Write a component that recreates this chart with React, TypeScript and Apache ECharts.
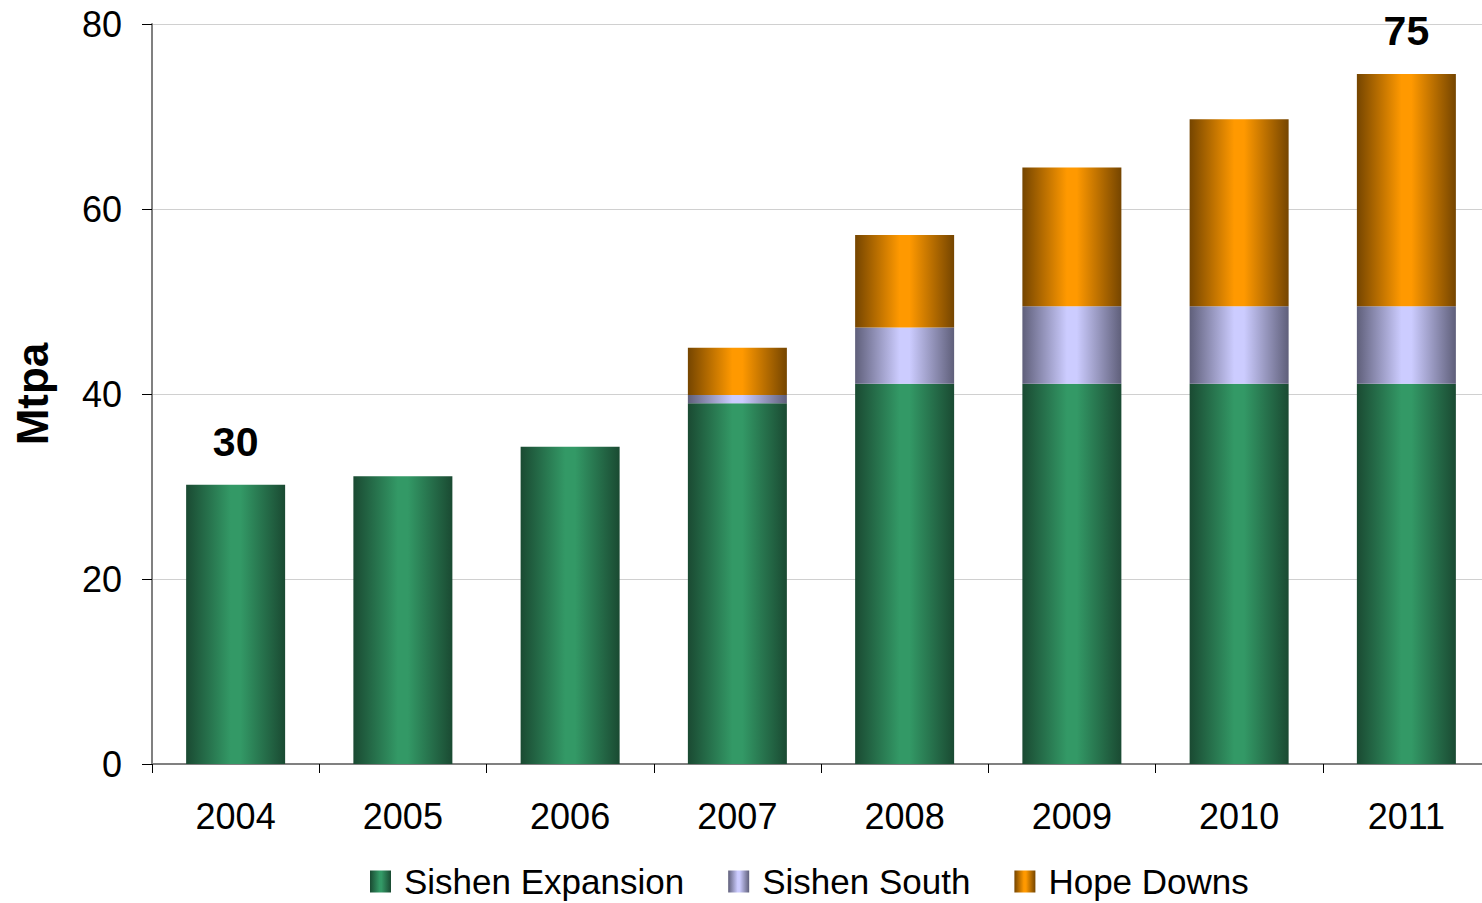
import React, { useEffect, useRef } from "react";
import * as echarts from "echarts";

const years = ["2004", "2005", "2006", "2007", "2008", "2009", "2010", "2011"];
const sishenExpansion = [30.2, 31.1, 34.3, 39.0, 41.1, 41.1, 41.1, 41.1];
const sishenSouth = [0, 0, 0, 0.9, 6.1, 8.4, 8.4, 8.4];
const hopeDowns = [0, 0, 0, 5.1, 10.0, 15.0, 20.2, 25.1];
const expansionLabels = ["30", "", "", "", "", "", "", ""];
const hopeLabels = ["", "", "", "", "", "", "", "75"];
const yTicks = [0, 20, 40, 60, 80];

const FONT = "'Liberation Sans', Arial, sans-serif";

function grad(dark: string, light: string) {
  return new echarts.graphic.LinearGradient(0, 0, 1, 0, [
    { offset: 0, color: dark },
    { offset: 0.45, color: light },
    { offset: 0.55, color: light },
    { offset: 1, color: dark },
  ]);
}

export default function App() {
  const ref = useRef<HTMLDivElement>(null);
  useEffect(() => {
    if (!ref.current) return;
    const chart = echarts.init(ref.current, undefined, { renderer: "svg" });
    const labelStyle = {
      show: true,
      position: "top",
      distance: 22,
      fontSize: 41,
      fontWeight: "bold",
      color: "#000",
      fontFamily: FONT,
    };
    const mk = (vals: number[], labels: string[] | null) =>
      vals.map((v, i) => {
        const item: any = { value: v };
        if (labels && labels[i]) {
          item.label = { ...labelStyle, formatter: labels[i] };
        }
        return item;
      });
    chart.setOption({
      animation: false,
      textStyle: { fontFamily: FONT },
      grid: {
        left: 152,
        right: -8,
        top: 24,
        bottom: 139,
        containLabel: false,
        outerBoundsMode: "none",
      },
      legend: {
        left: 370,
        top: 864,
        padding: 0,
        icon: "rect",
        itemWidth: 21,
        itemHeight: 22,
        itemGap: 44,
        textStyle: { fontSize: 35, color: "#000", fontFamily: FONT, padding: [0, 0, 0, 8] },
        data: ["Sishen Expansion", "Sishen South", "Hope Downs"],
      },
      xAxis: {
        type: "category",
        data: years,
        boundaryGap: true,
        axisLine: { lineStyle: { color: "#808080", width: 2 } },
        axisTick: { show: true, length: 9, lineStyle: { color: "#000", width: 1 } },
        axisLabel: { fontSize: 36, color: "#000", margin: 34, fontFamily: FONT },
      },
      yAxis: {
        type: "value",
        min: yTicks[0],
        max: yTicks[yTicks.length - 1],
        interval: 20,
        name: "Mtpa",
        nameLocation: "middle",
        nameRotate: 90,
        nameGap: 98,
        nameTextStyle: { fontSize: 44, fontWeight: "bold", color: "#000", fontFamily: FONT },
        axisLine: { show: true, lineStyle: { color: "#808080", width: 2 } },
        axisTick: { show: true, length: 10, lineStyle: { color: "#000", width: 1 } },
        axisLabel: { fontSize: 36, color: "#000", margin: 30, fontFamily: FONT },
        splitLine: { lineStyle: { color: "#d0d0d0", width: 1 } },
      },
      series: [
        {
          name: "Sishen Expansion",
          type: "bar",
          stack: "total",
          barWidth: 99,
          data: mk(sishenExpansion, expansionLabels),
          itemStyle: { color: grad("#1a4a32", "#339966") },
        },
        {
          name: "Sishen South",
          type: "bar",
          stack: "total",
          barWidth: 99,
          data: mk(sishenSouth, null),
          itemStyle: { color: grad("#5f5f7a", "#ccccff") },
        },
        {
          name: "Hope Downs",
          type: "bar",
          stack: "total",
          barWidth: 99,
          data: mk(hopeDowns, hopeLabels),
          itemStyle: { color: grad("#754500", "#ff9900") },
        },
      ],
    });
    return () => chart.dispose();
  }, []);
  return (
    <div
      ref={ref}
      style={{ position: "absolute", left: 0, top: 0, width: 1482, height: 903, background: "#fff" }}
    />
  );
}
